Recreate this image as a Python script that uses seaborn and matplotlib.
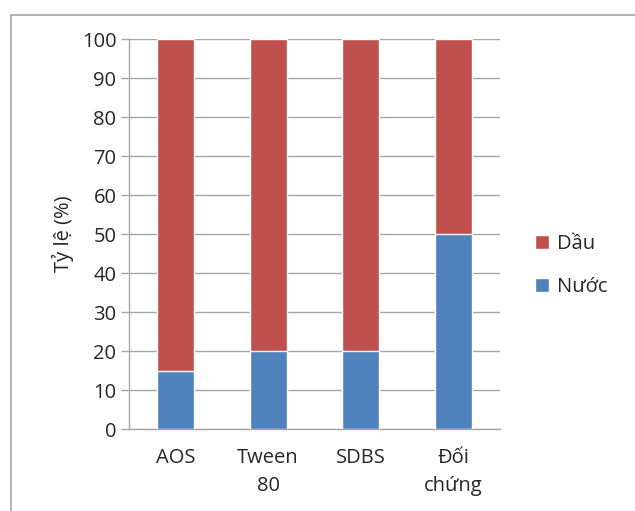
import matplotlib
matplotlib.use("Agg")
import matplotlib.pyplot as plt
from matplotlib.patches import Rectangle
import pandas as pd
import seaborn as sns

# du lieu doc tu hinh
nhom = ["AOS", "Tween\n80", "SDBS", "Đối\nchứng"]
nuoc = [15, 20, 20, 50]
dau = [85, 80, 80, 50]

df = pd.DataFrame({"nhom": nhom, "Nước": nuoc, "Dầu": dau})
df["tong"] = df["Nước"] + df["Dầu"]

sns.set_style("white")
plt.rcParams["font.family"] = ["Open Sans", "DejaVu Sans"]

fig = plt.figure(figsize=(6.35, 5.11), dpi=100)
ax = fig.add_axes([129 / 635, 1 - 429 / 511, 371 / 635, 390 / 511])

do = "#C0504D"
xanh = "#4F81BD"
sns.barplot(data=df, x="nhom", y="tong", color=do, width=0.4, saturation=1,
            ax=ax, label="Dầu", zorder=3)
sns.barplot(data=df, x="nhom", y="Nước", color=xanh, width=0.4, saturation=1,
            ax=ax, label="Nước", zorder=3)

ax.set_ylim(0, 100)
ax.set_xlim(-0.5, 3.5)
ax.set_yticks(range(0, 101, 10))
ax.yaxis.grid(True, color="#a6a6a6", linewidth=1, zorder=0)
ax.set_axisbelow(True)
for s in ["top", "right"]:
    ax.spines[s].set_visible(False)
for s in ["left", "bottom"]:
    ax.spines[s].set_color("#a6a6a6")
    ax.spines[s].set_linewidth(1)

ax.set_xticks([-0.5, 0.5, 1.5, 2.5, 3.5], minor=True)
ax.tick_params(axis="x", which="minor", length=7, color="#a6a6a6", width=1)
ax.tick_params(axis="x", which="major", length=0, pad=14, labelsize=14.5)
ax.tick_params(axis="y", length=6, color="#a6a6a6", width=1, labelsize=14.5, pad=3,
               left=True)
for t in ax.get_xticklabels():
    t.set_linespacing(1.5)
ax.set_xlabel("")
ax.set_ylabel("Tỷ lệ (%)", fontsize=14.5, labelpad=6)

h, l = ax.get_legend_handles_labels()
ax.legend(h, l, loc="center left", bbox_to_anchor=(1.045, 0.42), frameon=False,
          fontsize=14.5, handlelength=0.7, handleheight=0.7, labelspacing=1.15,
          handletextpad=0.4)

fig.add_artist(Rectangle((11 / 635, -0.1), 1.2, 1 - 15 / 511 + 0.1,
                         transform=fig.transFigure, fill=False,
                         edgecolor="#a6a6a6", linewidth=1.2))

fig.savefig("out.png", dpi=100)
